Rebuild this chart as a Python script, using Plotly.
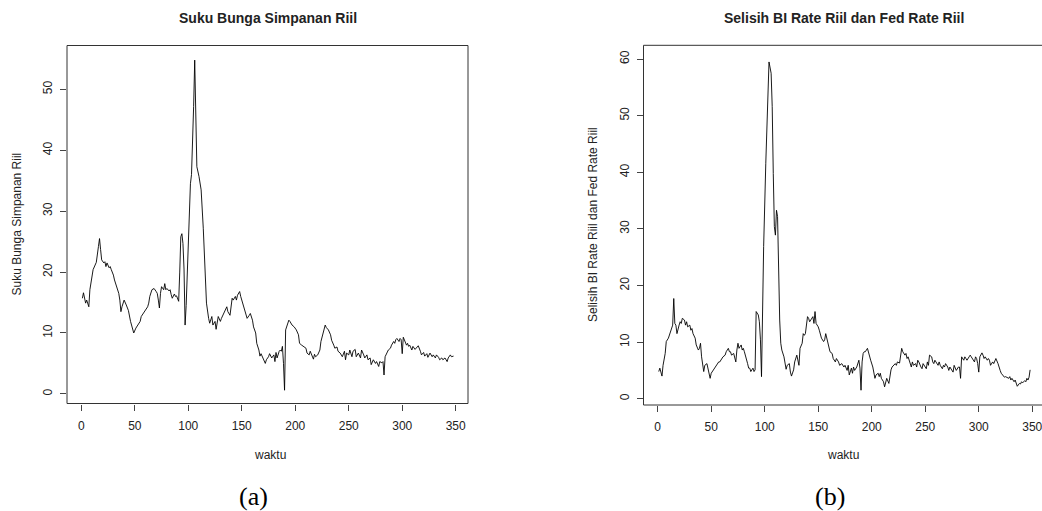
import plotly.graph_objects as go

# ---- Data: Suku Bunga Simpanan Riil (panel a) ----
t_a = [1, 2, 4, 5, 7, 8, 11, 14, 16, 17, 18, 19, 21, 22, 23, 24, 26, 27, 28, 30,
       31, 33, 35, 36, 37, 38, 40, 42, 44, 46, 48, 49, 51, 53, 55, 56, 58, 60, 62, 63,
       64, 66, 68, 70, 71, 72, 73, 74, 75, 77, 78, 79, 80, 82, 83, 84, 85, 87, 88, 89,
       90, 91, 92, 93, 94, 95, 96, 97, 98, 99, 100, 101, 102, 103, 104, 105, 106, 107, 108, 110,
       112, 114, 116, 117, 119, 120, 122, 123, 125, 126, 128, 130, 131, 133, 134, 136, 137, 139, 141, 142,
       144, 145, 146, 148, 149, 150, 152, 154, 155, 157, 158, 160, 161, 163, 164, 166, 167, 168, 170, 172,
       173, 175, 176, 178, 180, 181, 182, 183, 185, 186, 187, 188, 189, 190, 191, 193, 194, 195, 197, 199,
       201, 203, 204, 206, 208, 210, 211, 213, 214, 216, 217, 218, 219, 221, 223, 224, 226, 228, 229, 231,
       233, 234, 236, 237, 239, 240, 242, 244, 246, 247, 248, 250, 251, 253, 254, 256, 257, 259, 261, 262,
       264, 265, 267, 268, 270, 271, 273, 275, 276, 278, 279, 281, 282, 283, 284, 286, 287, 289, 290, 292,
       293, 294, 295, 297, 298, 299, 300, 301, 302, 304, 305, 306, 307, 309, 310, 312, 314, 315, 317, 318,
       320, 321, 323, 324, 326, 328, 329, 331, 332, 334, 335, 337, 338, 340, 342, 343, 345, 346, 348]
v_a = [15.7, 16.6, 14.9, 15.4, 14.3, 17.1, 20.4, 21.6, 24.2, 25.5, 23.7, 22.0, 21.5, 21.7, 20.9, 21.5, 20.7, 20.9, 20.4, 19.5,
       18.7, 17.6, 16.5, 15.4, 13.5, 14.3, 15.4, 14.6, 13.7, 11.9, 10.8, 10.0, 10.8, 11.3, 11.9, 12.7, 13.2, 13.8, 14.3, 14.9,
       16.0, 17.1, 17.3, 16.8, 16.5, 15.4, 14.1, 16.5, 17.6, 17.1, 18.1, 17.1, 17.3, 16.9, 17.1, 16.3, 15.7, 16.4, 16.0, 16.1,
       15.4, 15.2, 20.0, 25.8, 26.3, 24.7, 20.5, 11.3, 14.5, 20.0, 24.2, 30.0, 34.5, 36.0, 40.6, 47.2, 54.8, 46.6, 37.3, 35.7,
       33.5, 27.2, 19.8, 14.9, 12.4, 11.6, 12.7, 11.3, 11.9, 10.6, 12.7, 11.9, 12.4, 13.2, 13.8, 14.3, 13.5, 12.9, 15.7, 15.4,
       16.0, 15.4, 16.2, 16.8, 16.0, 15.4, 14.6, 13.2, 12.4, 12.9, 13.2, 12.1, 11.0, 10.0, 8.3, 7.2, 6.2, 6.6, 5.9, 5.0,
       5.6, 6.1, 6.6, 5.9, 6.4, 5.3, 6.8, 5.9, 7.0, 7.2, 7.0, 7.8, 5.0, 0.6, 10.5, 11.6, 12.1, 11.9, 11.3, 11.0,
       10.5, 9.7, 8.3, 8.0, 7.8, 7.5, 6.7, 6.4, 7.0, 6.1, 5.7, 6.5, 6.1, 6.4, 7.2, 8.6, 10.2, 11.3, 10.9, 10.5,
       9.7, 8.8, 8.0, 7.5, 7.7, 7.0, 6.7, 6.1, 7.0, 5.6, 6.7, 6.4, 7.2, 6.1, 7.0, 7.3, 6.1, 6.7, 5.9, 7.2,
       6.4, 5.9, 6.4, 5.6, 5.9, 4.8, 5.6, 5.0, 5.3, 4.5, 5.3, 5.1, 5.3, 3.1, 6.1, 7.0, 7.2, 7.5, 8.0, 8.6,
       8.3, 8.9, 9.1, 8.6, 9.1, 8.9, 6.6, 9.3, 8.9, 8.0, 8.3, 7.8, 8.0, 7.2, 7.8, 7.3, 7.7, 7.9, 7.0, 6.4,
       6.8, 6.2, 6.6, 6.0, 6.7, 6.1, 6.4, 5.9, 6.4, 6.0, 5.6, 5.9, 5.6, 5.9, 5.3, 5.9, 6.4, 6.1, 6.2]

# ---- Data: Selisih BI Rate Riil dan Fed Rate Riil (panel b) ----
t_b = [1, 2, 4, 5, 7, 8, 10, 12, 13, 14, 15, 16, 17, 18, 20, 21, 22, 23, 25, 26,
       27, 28, 30, 31, 32, 33, 35, 36, 38, 39, 40, 41, 43, 44, 46, 47, 49, 50, 52, 54,
       55, 57, 58, 60, 61, 63, 64, 66, 67, 68, 69, 71, 72, 73, 74, 75, 76, 78, 79, 80,
       81, 82, 84, 85, 86, 87, 89, 90, 91, 92, 94, 95, 96, 97, 99, 101, 102, 103, 104, 106,
       107, 108, 109, 110, 111, 112, 113, 114, 115, 116, 118, 119, 120, 121, 123, 124, 125, 127, 128, 130,
       131, 132, 133, 135, 136, 137, 138, 140, 141, 142, 143, 145, 146, 147, 148, 150, 151, 152, 153, 155,
       156, 157, 158, 160, 161, 163, 164, 166, 167, 169, 170, 172, 174, 175, 177, 178, 179, 181, 182, 183,
       184, 186, 187, 188, 189, 190, 191, 192, 193, 194, 196, 197, 198, 199, 201, 202, 203, 204, 206, 207,
       208, 209, 211, 212, 213, 214, 216, 217, 218, 219, 221, 222, 223, 224, 226, 227, 228, 229, 231, 232,
       233, 234, 236, 237, 238, 239, 241, 242, 243, 244, 246, 247, 248, 249, 251, 252, 253, 254, 256, 257,
       258, 259, 261, 262, 263, 264, 266, 267, 268, 269, 271, 272, 273, 274, 276, 277, 278, 279, 281, 282,
       283, 284, 286, 287, 288, 289, 291, 292, 293, 294, 296, 297, 298, 299, 300, 301, 303, 304, 305, 306,
       308, 309, 310, 311, 313, 314, 315, 316, 318, 319, 320, 321, 323, 324, 325, 328, 329, 330, 331, 333,
       334, 335, 336, 338, 339, 340, 341, 343, 344, 345, 346, 347, 348]
v_b = [4.8, 5.4, 4.0, 5.9, 8.0, 10.1, 10.7, 11.9, 12.7, 13.0, 17.7, 13.3, 13.0, 11.5, 13.0, 13.6, 13.3, 14.2, 13.9, 13.0,
       13.6, 12.7, 13.0, 12.1, 12.4, 11.5, 10.7, 9.5, 8.6, 8.9, 9.8, 7.4, 4.8, 5.9, 6.2, 5.4, 3.6, 4.5, 5.1, 5.7,
       5.9, 6.5, 6.5, 7.1, 7.4, 7.7, 8.3, 8.9, 8.3, 8.3, 7.7, 8.0, 7.4, 6.5, 8.6, 9.8, 8.9, 9.5, 8.6, 8.9,
       8.3, 7.4, 6.2, 5.4, 5.4, 4.8, 5.4, 4.8, 5.1, 15.4, 14.8, 13.6, 10.4, 3.9, 26.9, 41.6, 48.0, 55.1, 59.5, 57.5,
       51.6, 39.8, 30.4, 28.9, 33.3, 32.2, 22.0, 13.9, 9.8, 8.6, 7.4, 6.5, 5.2, 5.9, 6.2, 4.7, 4.0, 5.1, 6.5, 7.7,
       6.5, 5.9, 8.9, 9.8, 11.5, 11.2, 11.5, 14.5, 14.2, 13.6, 13.9, 14.5, 13.3, 15.4, 13.3, 12.7, 12.1, 11.5, 10.7, 10.1,
       10.4, 11.5, 10.7, 9.2, 8.3, 8.0, 7.1, 6.5, 7.1, 6.5, 5.9, 6.2, 5.6, 5.9, 5.0, 5.9, 4.2, 5.4, 4.5, 5.6,
       5.0, 5.6, 6.2, 6.8, 5.4, 1.5, 6.5, 8.0, 8.3, 8.3, 8.9, 8.0, 7.1, 6.8, 5.6, 4.5, 3.6, 4.2, 4.5, 3.9,
       4.5, 3.6, 3.0, 2.1, 2.7, 3.6, 2.7, 4.2, 5.1, 5.6, 5.9, 6.2, 5.9, 6.5, 6.3, 7.4, 8.9, 8.3, 7.7, 8.0,
       7.1, 7.4, 6.2, 5.6, 6.5, 5.9, 6.2, 5.6, 6.8, 6.5, 5.6, 5.3, 6.2, 5.9, 5.3, 6.5, 5.9, 7.7, 7.4, 6.5,
       6.2, 6.8, 6.2, 5.9, 6.5, 5.9, 5.3, 5.9, 5.6, 6.2, 5.6, 5.0, 5.6, 5.3, 4.7, 5.9, 5.3, 5.0, 5.6, 5.6,
       3.6, 7.4, 6.8, 7.4, 7.1, 6.8, 7.4, 7.7, 7.4, 7.1, 6.5, 7.4, 7.1, 6.2, 4.7, 7.4, 8.1, 7.7, 7.1, 7.4,
       6.8, 7.1, 6.8, 5.9, 6.5, 6.2, 6.8, 7.1, 6.2, 5.3, 5.0, 4.5, 3.9, 3.8, 3.9, 3.6, 3.9, 3.3, 3.6, 3.0,
       3.3, 2.8, 2.2, 2.7, 2.6, 3.0, 2.8, 3.2, 3.0, 3.6, 3.3, 3.8, 5.1]

x_ticks = [0, 50, 100, 150, 200, 250, 300, 350]
y_ticks_a = [0, 10, 20, 30, 40, 50]
y_ticks_b = [0, 10, 20, 30, 40, 50, 60]

title_a = "Suku Bunga Simpanan Riil"
title_b = "Selisih BI Rate Riil dan Fed Rate Riil"
xlab = "waktu"

W, H = 1042, 511
SANS = "Liberation Sans, Arial, sans-serif"
SERIF = "Liberation Serif, Times New Roman, serif"
INK = "#222222"

fig = go.Figure()
fig.add_trace(go.Scatter(x=t_a, y=v_a, mode="lines", line=dict(color="black", width=0.9),
                         xaxis="x", yaxis="y", showlegend=False, hoverinfo="skip"))
fig.add_trace(go.Scatter(x=t_b, y=v_b, mode="lines", line=dict(color="black", width=0.9),
                         xaxis="x2", yaxis="y2", showlegend=False, hoverinfo="skip"))

def xax(domain, rng, anchor):
    return dict(domain=domain, range=rng, anchor=anchor, tickvals=x_ticks,
                ticks="outside", ticklen=6, tickwidth=1, tickcolor="#444",
                showgrid=False, zeroline=False, showline=False, ticklabeloverflow="allow",
                tickfont=dict(family=SANS, size=12, color=INK), ticklabelstandoff=5)

def yax(domain, rng, anchor, tv):
    return dict(domain=domain, range=rng, anchor=anchor, tickvals=tv,
                ticks="outside", ticklen=6, tickwidth=1, tickcolor="#444",
                showgrid=False, zeroline=False, showline=False, tickangle=-90,
                tickfont=dict(family=SANS, size=12, color=INK), ticklabelstandoff=3)

# pixel-calibrated domains
dxa = [67 / W, 468 / W]
dya = [(H - 403.5) / H, (H - 45.5) / H]
dxb = [643.5 / W, 1.0]
dyb = [(H - 405) / H, (H - 45.3) / H]

fig.update_layout(
    width=W, height=H, autosize=False,
    margin=dict(l=0, r=0, t=0, b=0),
    paper_bgcolor="white", plot_bgcolor="white",
    hovermode=False,
    xaxis=xax(dxa, [-13.4, 361.5], "y"),
    yaxis=yax(dya, [-1.58, 57.2], "x", y_ticks_a),
    xaxis2=xax(dxb, [-13.27, 359.1], "y2"),
    yaxis2=yax(dyb, [-1.11, 62.44], "x2", y_ticks_b),
)

# plot boxes
fig.add_shape(type="rect", xref="x domain", yref="y domain", x0=0, x1=1, y0=0, y1=1,
              line=dict(color="#333", width=1), layer="above")
fig.add_shape(type="rect", xref="x2 domain", yref="y2 domain", x0=0, x1=1.02, y0=0, y1=1,
              line=dict(color="#333", width=1), layer="above")

def ann(text, x, y, size, family=SANS, bold=False, angle=0):
    fig.add_annotation(text=f"<b>{text}</b>" if bold else text, x=x / W, y=(H - y) / H,
                       xref="paper", yref="paper", showarrow=False, xanchor="center",
                       yanchor="middle", textangle=angle,
                       font=dict(family=family, size=size, color="black" if family == SERIF else INK))

ann(title_a, 267.5, 18, 14, bold=True)
ann(title_b, 844, 18, 14, bold=True)
ann(xlab, 270, 455, 12)
ann(xlab, 843, 455, 12)
ann(title_a, 17, 224.5, 12, angle=-90)
ann(title_b, 593, 225, 12, angle=-90)
ann("(a)", 253, 496, 26, family=SERIF)
ann("(b)", 830, 496, 26, family=SERIF)

fig.write_html("out.html", config={"displayModeBar": False},
               post_script="document.body.style.margin='0';document.body.style.overflow='hidden';")
